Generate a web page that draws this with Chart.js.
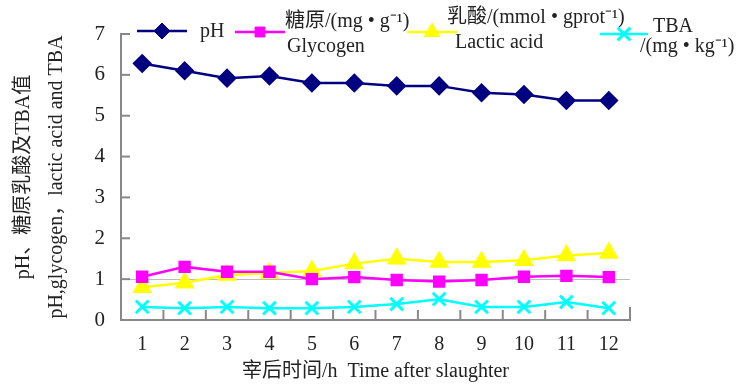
<!DOCTYPE html>
<html>
<head>
<meta charset="utf-8">
<script src="https://cdn.jsdelivr.net/npm/chart.js@4"></script>
<style>
  body{margin:0;background:#fff}
  #wrap{width:747px;height:387px}
</style>
</head>
<body>
<div id="wrap"><canvas id="myChart"></canvas></div>
<script>
// 宰后时间 (h)
let hours=['1','2','3','4','5','6','7','8','9','10','11','12']
let ph=[6.28,6.1,5.92,5.97,5.8,5.8,5.73,5.73,5.56,5.52,5.37,5.37]
let glycogen=[1.06,1.3,1.18,1.18,1.0,1.05,0.98,0.94,0.98,1.06,1.08,1.05]
let lactic=[0.8,0.91,1.1,1.15,1.2,1.38,1.5,1.42,1.42,1.46,1.58,1.64]
let tba=[0.32,0.29,0.32,0.29,0.29,0.32,0.39,0.51,0.32,0.32,0.44,0.29]
let yTicks=[0,1,2,3,4,5,6,7]

const serif="'Liberation Serif','Noto Sans CJK SC',serif"
const axisGray='#888'

// inward tick marks + the hand placed legend
const extras={
  id:'extras',
  afterDraw(chart){
    const c=chart.ctx, a=chart.chartArea
    const ys=chart.scales.y
    c.save()
    c.strokeStyle=axisGray
    c.lineWidth=2
    yTicks.forEach(v=>{
      let y=ys.getPixelForValue(v)
      c.beginPath();c.moveTo(a.left,y);c.lineTo(a.left+9,y);c.stroke()
    })
    let w=(a.right-a.left)/hours.length
    for(let i=1;i<=hours.length;i++){
      let x=a.left+i*w
      c.beginPath();c.moveTo(x,a.bottom);c.lineTo(x,a.bottom-(i==hours.length?13:10));c.stroke()
    }

    let items=[
      {ds:0,x1:137,x2:187,y:31,lines:[['pH',200,32]]},
      {ds:1,x1:235,x2:285,y:32,lines:[['糖原/(mg • g⁻¹)',285,22],['Glycogen',287,47]]},
      {ds:2,x1:407,x2:457,y:32,lines:[['乳酸/(mmol • gprot⁻¹)',447,18],['Lactic acid',455,43]]},
      {ds:3,x1:600,x2:648,y:34,lines:[['TBA',653,27],['/(mg • kg⁻¹)',640,47]]}
    ]
    items.forEach(it=>{
      let d=chart.data.datasets[it.ds]
      c.strokeStyle=d.borderColor
      c.fillStyle=d.backgroundColor
      c.lineWidth=d.borderWidth
      c.beginPath();c.moveTo(it.x1,it.y);c.lineTo(it.x2,it.y);c.stroke()
      c.lineWidth=d.pointBorderWidth||1
      Chart.helpers.drawPoint(c,{pointStyle:d.pointStyle,radius:d.pointRadius,borderWidth:d.pointBorderWidth||1,rotation:0},(it.x1+it.x2)/2,it.y)
      c.fillStyle='#222'
      c.font='20px '+serif
      c.textBaseline='middle'
      c.textAlign='left'
      it.lines.forEach(l=>c.fillText(l[0],l[1],l[2]))
    })
    c.restore()
  }
}

const ctx=document.getElementById('myChart')

new Chart(ctx,{
  type:'line',
  data:{
    labels:hours,
    datasets:[
      {label:'pH',data:ph,borderColor:'#000080',backgroundColor:'#000080',borderWidth:2.5,pointStyle:'rectRot',pointRadius:8},
      {label:'Glycogen',data:glycogen,borderColor:'#ff00ff',backgroundColor:'#ff00ff',borderWidth:2.5,pointStyle:'rect',pointRadius:7},
      {label:'Lactic acid',data:lactic,borderColor:'#ffff00',backgroundColor:'#ffff00',borderWidth:2.5,pointStyle:'triangle',pointRadius:9},
      {label:'TBA',data:tba,borderColor:'#00ffff',backgroundColor:'#00ffff',borderWidth:2.5,pointStyle:'crossRot',pointRadius:9,pointBorderWidth:3}
    ]
  },
  options:{
    responsive:true,
    maintainAspectRatio:false,
    animation:false,
    layout:{padding:{top:34,right:117,bottom:0,left:0}},
    plugins:{legend:{display:false},tooltip:{enabled:false}},
    scales:{
      x:{
        offset:true,
        grid:{display:false},
        border:{color:axisGray,width:2},
        ticks:{color:'#222',font:{family:serif,size:20},padding:5,maxRotation:0,autoSkip:false},
        title:{display:true,text:'宰后时间/h  Time after slaughter',color:'#222',font:{family:serif,size:20},padding:{top:0,bottom:3}},
        afterFit(s){s.height=67}
      },
      y:{
        min:0,max:7,
        afterBuildTicks(s){s.ticks=yTicks.map(v=>({value:v}))},
        grid:{drawTicks:false,color:c=>c.tick&&c.tick.value==1?'#bbb':'rgba(0,0,0,0)'},
        border:{color:axisGray,width:2},
        ticks:{color:'#222',font:{family:serif,size:21},padding:16},
        title:{display:true,text:['pH、糖原乳酸及TBA值','pH,glycogen，lactic acid and TBA'],color:'#222',font:{family:serif,size:20,lineHeight:1.65},padding:{top:7,bottom:0}},
        afterFit(s){s.width=121}
      }
    }
  },
  plugins:[extras]
})
</script>
</body>
</html>
